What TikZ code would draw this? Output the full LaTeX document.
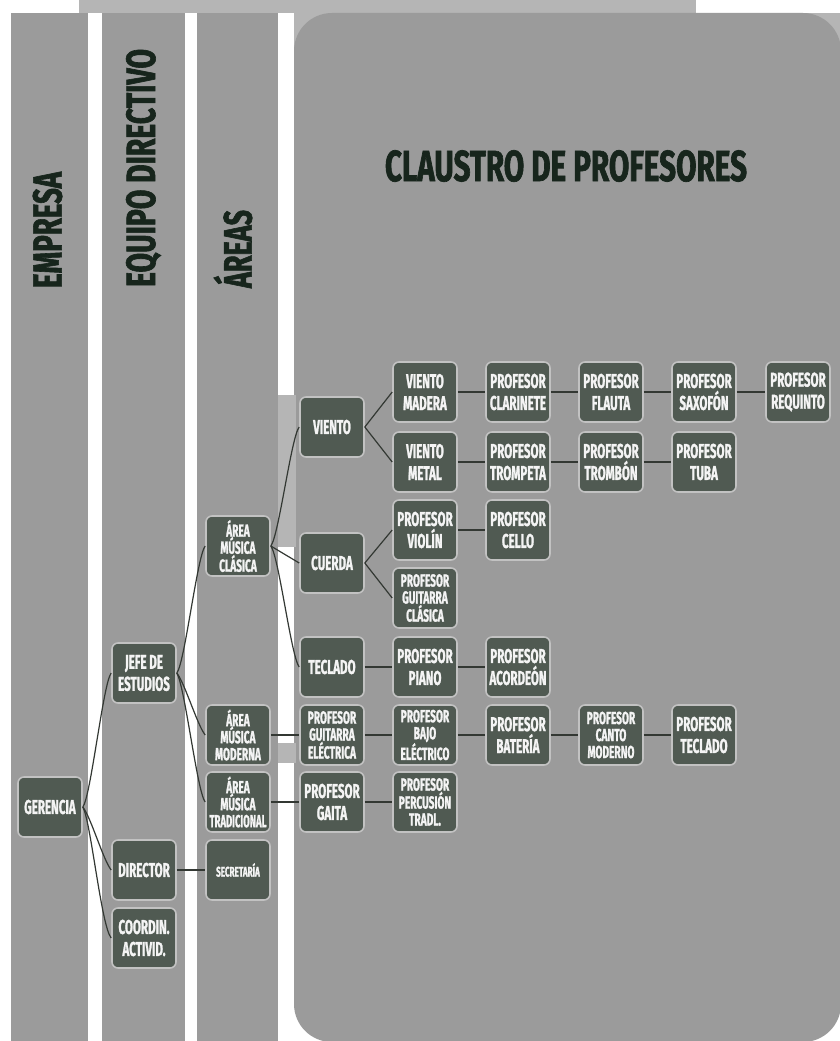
\documentclass[tikz,border=0pt]{standalone}
\usepackage{fontspec}
\usepackage{graphicx}
\newfontfamily\boxfont[FakeStretch=0.58,FakeBold=1.2]{Fira Sans}
\newfontfamily\hdrfont[FakeStretch=0.7,FakeBold=1.5]{Fira Sans}
\newsavebox\fitbox
\newcommand\fl[1]{\sbox\fitbox{#1}\ifdim\wd\fitbox>57pt\resizebox{57pt}{\height}{\usebox\fitbox}\else\usebox\fitbox\fi}
\definecolor{colgray}{HTML}{9B9B9B}
\definecolor{lightband}{HTML}{B5B5B5}
\definecolor{boxfill}{HTML}{505A52}
\definecolor{boxedge}{HTML}{C2C2C2}
\definecolor{boxtext}{HTML}{F4F4F4}
\definecolor{hdrcol}{HTML}{17251C}
\definecolor{linecol}{HTML}{333833}
\tikzset{
  bx/.style={rectangle, rounded corners=6pt, fill=boxfill, draw=boxedge, line width=1.6pt,
    minimum width=64pt, minimum height=60pt, inner sep=0pt, text=boxtext, align=center,
    font=\boxfont\bfseries\fontsize{20}{22}\selectfont},
  bx3/.style={bx, font=\boxfont\bfseries\fontsize{17.5}{17}\selectfont},
  bxs/.style={bx, font=\boxfont\bfseries\fontsize{14}{15}\selectfont},
  conn/.style={draw=linecol, line width=1.2pt},
  hdr/.style={inner sep=0pt, text=hdrcol, font=\hdrfont\bfseries}
}
\begin{document}
\begin{tikzpicture}[x=1pt,y=-1pt]
\useasboundingbox (0,0) rectangle (840,1041);
\fill[white] (0,0) rectangle (840,1041);
% background bands
\fill[lightband] (79,0) rectangle (696,13);
\fill[lightband] (294,13) rectangle (345,60);
\fill[lightband] (800,13) rectangle (840,55);
\fill[colgray] (11,13) rectangle (88,1041);
\fill[colgray] (102,13) rectangle (185,1041);
\fill[colgray] (197,13) rectangle (278,1041);
\fill[colgray, rounded corners=38pt] (294,13) rectangle (841,1042);
\fill[lightband] (278,395) rectangle (296,547);
\fill[lightband] (278,743) rectangle (296,763);
% headers
\node[hdr] (ttl) at (566,166) {\resizebox{362pt}{31pt}{CLAUSTRO DE PROFESORES}};
\node[hdr, rotate=90] (hemp) at (47.5,230) {\resizebox{116pt}{29pt}{EMPRESA}};
\node[hdr, rotate=90] (hequ) at (143.5,168) {\resizebox{238pt}{29pt}{EQUIPO DIRECTIVO}};
\node[hdr, rotate=90] (hare) at (233,249) {\resizebox{78pt}{38pt}{ÁREAS}};
% nodes
\node[bx] (ger) at (50,807) {\fl{GERENCIA}};
\node[bx] (jefe) at (144,673) {\fl{JEFE DE}\\\fl{ESTUDIOS}};
\node[bx] (dir) at (144,870) {\fl{DIRECTOR}};
\node[bx] (coord) at (144,938) {\fl{COORDIN.}\\\fl{ACTIVID.}};
\node[bx3] (acla) at (238,546) {\fl{ÁREA}\\\fl{MÚSICA}\\\fl{CLÁSICA}};
\node[bx3] (amod) at (238,735) {\fl{ÁREA}\\\fl{MÚSICA}\\\fl{MODERNA}};
\node[bx3] (atra) at (238,802) {\fl{ÁREA}\\\fl{MÚSICA}\\\fl{TRADICIONAL}};
\node[bxs] (secr) at (238,870) {\fl{SECRETARÍA}};
\node[bx] (vie) at (332,427) {\fl{VIENTO}};
\node[bx] (cue) at (332,563) {\fl{CUERDA}};
\node[bx] (tec) at (332,667) {\fl{TECLADO}};
\node[bx3] (pgel) at (332,735) {\fl{PROFESOR}\\\fl{GUITARRA}\\\fl{ELÉCTRICA}};
\node[bx] (pgai) at (332,802) {\fl{PROFESOR}\\\fl{GAITA}};
\node[bx] (vmad) at (425,392) {\fl{VIENTO}\\\fl{MADERA}};
\node[bx] (vmet) at (425,462) {\fl{VIENTO}\\\fl{METAL}};
\node[bx] (pvio) at (425,530) {\fl{PROFESOR}\\\fl{VIOLÍN}};
\node[bx3] (pgcl) at (425,598) {\fl{PROFESOR}\\\fl{GUITARRA}\\\fl{CLÁSICA}};
\node[bx] (ppia) at (425,667) {\fl{PROFESOR}\\\fl{PIANO}};
\node[bx3] (pbaj) at (425,735) {\fl{PROFESOR}\\\fl{BAJO}\\\fl{ELÉCTRICO}};
\node[bx3] (pper) at (425,802) {\fl{PROFESOR}\\\fl{PERCUSIÓN}\\\fl{TRADL.}};
\node[bx] (pcla) at (518,392) {\fl{PROFESOR}\\\fl{CLARINETE}};
\node[bx] (ptpt) at (518,462) {\fl{PROFESOR}\\\fl{TROMPETA}};
\node[bx] (pcel) at (518,530) {\fl{PROFESOR}\\\fl{CELLO}};
\node[bx] (pacd) at (518,667) {\fl{PROFESOR}\\\fl{ACORDEÓN}};
\node[bx] (pbat) at (518,735) {\fl{PROFESOR}\\\fl{BATERÍA}};
\node[bx] (pfla) at (611,392) {\fl{PROFESOR}\\\fl{FLAUTA}};
\node[bx] (ptbn) at (611,462) {\fl{PROFESOR}\\\fl{TROMBÓN}};
\node[bx3] (pcan) at (611,735) {\fl{PROFESOR}\\\fl{CANTO}\\\fl{MODERNO}};
\node[bx] (psax) at (704,392) {\fl{PROFESOR}\\\fl{SAXOFÓN}};
\node[bx] (ptub) at (704,462) {\fl{PROFESOR}\\\fl{TUBA}};
\node[bx] (ptec) at (704,735) {\fl{PROFESOR}\\\fl{TECLADO}};
\node[bx] (preq) at (798,392) {\fl{PROFESOR}\\\fl{REQUINTO}};
% connectors
\draw[conn] (ger.east) .. controls +(8,-10) and +(-8,10) .. (jefe.west);
\draw[conn] (ger.east) .. controls +(8,10) and +(-8,-10) .. (dir.west);
\draw[conn] (ger.east) .. controls +(8,14) and +(-10,-12) .. (coord.west);
\draw[conn] (jefe.east) .. controls +(8,-10) and +(-8,10) .. (acla.west);
\draw[conn] (jefe.east) .. controls +(8,10) and +(-8,-10) .. (amod.west);
\draw[conn] (jefe.east) .. controls +(8,13) and +(-8,-10) .. (atra.west);
\draw[conn] (dir) -- (secr);
\draw[conn] (acla.east) .. controls +(8,-10) and +(-8,10) .. (vie.west);
\draw[conn] (acla.east) -- (cue.west);
\draw[conn] (acla.east) .. controls +(8,10) and +(-8,-10) .. (tec.west);
\draw[conn] (vie.east) -- (vmad.west);
\draw[conn] (vie.east) -- (vmet.west);
\draw[conn] (cue.east) -- (pvio.west);
\draw[conn] (cue.east) -- (pgcl.west);
\draw[conn] (vmad) -- (pcla);
\draw[conn] (pcla) -- (pfla);
\draw[conn] (pfla) -- (psax);
\draw[conn] (psax) -- (preq);
\draw[conn] (vmet) -- (ptpt);
\draw[conn] (ptpt) -- (ptbn);
\draw[conn] (ptbn) -- (ptub);
\draw[conn] (pvio) -- (pcel);
\draw[conn] (tec) -- (ppia);
\draw[conn] (ppia) -- (pacd);
\draw[conn] (amod) -- (pgel);
\draw[conn] (pgel) -- (pbaj);
\draw[conn] (pbaj) -- (pbat);
\draw[conn] (pbat) -- (pcan);
\draw[conn] (pcan) -- (ptec);
\draw[conn] (atra) -- (pgai);
\draw[conn] (pgai) -- (pper);
\end{tikzpicture}
\end{document}
